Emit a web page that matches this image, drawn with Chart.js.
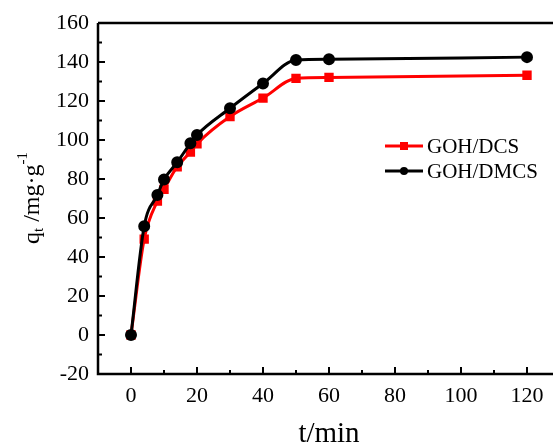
<!DOCTYPE html>
<html>
<head>
<meta charset="utf-8">
<script src="https://cdn.jsdelivr.net/npm/chart.js@4.4.1/dist/chart.umd.min.js"></script>
<style>
html, body { margin: 0; padding: 0; background: #fff; overflow: hidden; }
#wrap { width: 553px; height: 445px; overflow: hidden; }
</style>
</head>
<body>
<div id="wrap"><canvas id="chart" width="570" height="445" style="width:570px;height:445px"></canvas></div>
<script>
// ===== DATA =====
const times = [0, 4, 8, 10, 14, 18, 20, 30, 40, 50, 60, 120];
const qDCS  = [0, 49.2, 68.7, 74.7, 86.3, 93.8, 98, 112, 121.5, 131.6, 132.1, 133.2];
const qDMCS = [0, 55.8, 71.8, 79.7, 88.6, 98.3, 102.6, 116.3, 129, 141, 141.4, 142.5];
const seriesNames = ["GOH/DCS", "GOH/DMCS"];
const xTicks = [0, 20, 40, 60, 80, 100, 120];
const yTicks = [-20, 0, 20, 40, 60, 80, 100, 120, 140, 160];

const SERIF = "'Liberation Serif', 'Times New Roman', serif";

function toPoints(xs, ys) {
  return xs.map((x, i) => ({ x: x, y: ys[i] }));
}

// frame, inside ticks, axis titles and legend
const decorPlugin = {
  id: "decor",
  afterDraw(chart) {
    const ctx = chart.ctx;
    const xs = chart.scales.x;
    const ys = chart.scales.y;
    const a = chart.chartArea;
    ctx.save();
    ctx.strokeStyle = "#000";
    ctx.lineWidth = 2.5;
    ctx.beginPath();
    ctx.moveTo(a.left, a.top);
    ctx.lineTo(a.right, a.top);
    ctx.moveTo(a.left, a.top);
    ctx.lineTo(a.left, a.bottom);
    ctx.lineTo(a.right, a.bottom);
    ctx.lineTo(a.right, a.top);
    ctx.stroke();

    // ticks
    ctx.lineWidth = 2;
    ctx.beginPath();
    xTicks.forEach((v) => {
      const px = xs.getPixelForValue(v);
      ctx.moveTo(px, a.bottom);
      ctx.lineTo(px, a.bottom - 7);
      const mx = xs.getPixelForValue(v + 10);
      if (mx < a.right) {
        ctx.moveTo(mx, a.bottom);
        ctx.lineTo(mx, a.bottom - 4);
      }
    });
    yTicks.forEach((v) => {
      const py = ys.getPixelForValue(v);
      ctx.moveTo(a.left, py);
      ctx.lineTo(a.left + 7, py);
      const my = ys.getPixelForValue(v + 10);
      if (my > a.top) {
        ctx.moveTo(a.left, my);
        ctx.lineTo(a.left + 4, my);
      }
    });
    ctx.stroke();

    // x title
    ctx.fillStyle = "#000";
    ctx.font = "29px " + SERIF;
    ctx.textAlign = "center";
    ctx.textBaseline = "alphabetic";
    ctx.fillText("t/min", 329, 442);

    // y title with sub/superscript
    const parts = [
      { t: "q", size: 24, dy: 0 },
      { t: "t", size: 15, dy: 4 },
      { t: " /mg\u00b7g", size: 24, dy: 0 },
      { t: "-1", size: 15, dy: -12 }
    ];
    let total = 0;
    parts.forEach((p) => {
      ctx.font = p.size + "px " + SERIF;
      p.w = ctx.measureText(p.t).width;
      total += p.w;
    });
    ctx.translate(39, 198);
    ctx.rotate(-Math.PI / 2);
    ctx.textAlign = "left";
    let cx = -total / 2;
    parts.forEach((p) => {
      ctx.font = p.size + "px " + SERIF;
      ctx.fillText(p.t, cx, p.dy);
      cx += p.w;
    });
    ctx.setTransform(1, 0, 0, 1, 0, 0);

    // legend
    const rows = [146, 171];
    chart.data.datasets.forEach((ds, i) => {
      const y = rows[i];
      ctx.strokeStyle = ds.borderColor;
      ctx.lineWidth = 3;
      ctx.beginPath();
      ctx.moveTo(385, y);
      ctx.lineTo(423, y);
      ctx.stroke();
      ctx.fillStyle = ds.borderColor;
      if (ds.pointStyle === "rect") {
        ctx.fillRect(400, y - 4, 8, 8);
      } else {
        ctx.beginPath();
        ctx.arc(404, y, 4, 0, Math.PI * 2);
        ctx.fill();
      }
      ctx.fillStyle = "#000";
      ctx.font = "21px " + SERIF;
      ctx.textAlign = "left";
      ctx.textBaseline = "middle";
      ctx.fillText(ds.label, 427, y + 1);
    });
    ctx.restore();
  }
};

const ctx = document.getElementById("chart").getContext("2d");
new Chart(ctx, {
  type: "line",
  data: {
    datasets: [
      {
        label: seriesNames[0],
        data: toPoints(times, qDCS),
        borderColor: "#ff0000",
        backgroundColor: "#ff0000",
        borderWidth: 3,
        pointStyle: "rect",
        pointRadius: 4.5,
        cubicInterpolationMode: "monotone",
        order: 2
      },
      {
        label: seriesNames[1],
        data: toPoints(times, qDMCS),
        borderColor: "#000000",
        backgroundColor: "#000000",
        borderWidth: 3,
        pointStyle: "circle",
        pointRadius: 4.5,
        cubicInterpolationMode: "monotone",
        order: 1
      }
    ]
  },
  options: {
    responsive: false,
    animation: false,
    layout: { padding: { top: 23, right: 10, left: 0, bottom: 0 } },
    plugins: {
      legend: { display: false },
      tooltip: { enabled: false }
    },
    scales: {
      x: {
        type: "linear",
        min: -10,
        max: 130,
        grid: { display: false, drawTicks: false },
        border: { display: false },
        afterBuildTicks: (s) => { s.ticks = xTicks.map((v) => ({ value: v })); },
        afterFit: (s) => { s.height = 71; },
        ticks: {
          color: "#000",
          padding: 9,
          maxRotation: 0,
          autoSkip: false,
          font: { family: SERIF, size: 22 }
        }
      },
      y: {
        min: -20,
        max: 160,
        grid: { display: false, drawTicks: false },
        border: { display: false },
        afterBuildTicks: (s) => { s.ticks = yTicks.map((v) => ({ value: v })); },
        afterFit: (s) => { s.width = 98; },
        ticks: {
          color: "#000",
          padding: 9,
          autoSkip: false,
          font: { family: SERIF, size: 22 }
        }
      }
    }
  },
  plugins: [decorPlugin]
});
</script>
</body>
</html>
